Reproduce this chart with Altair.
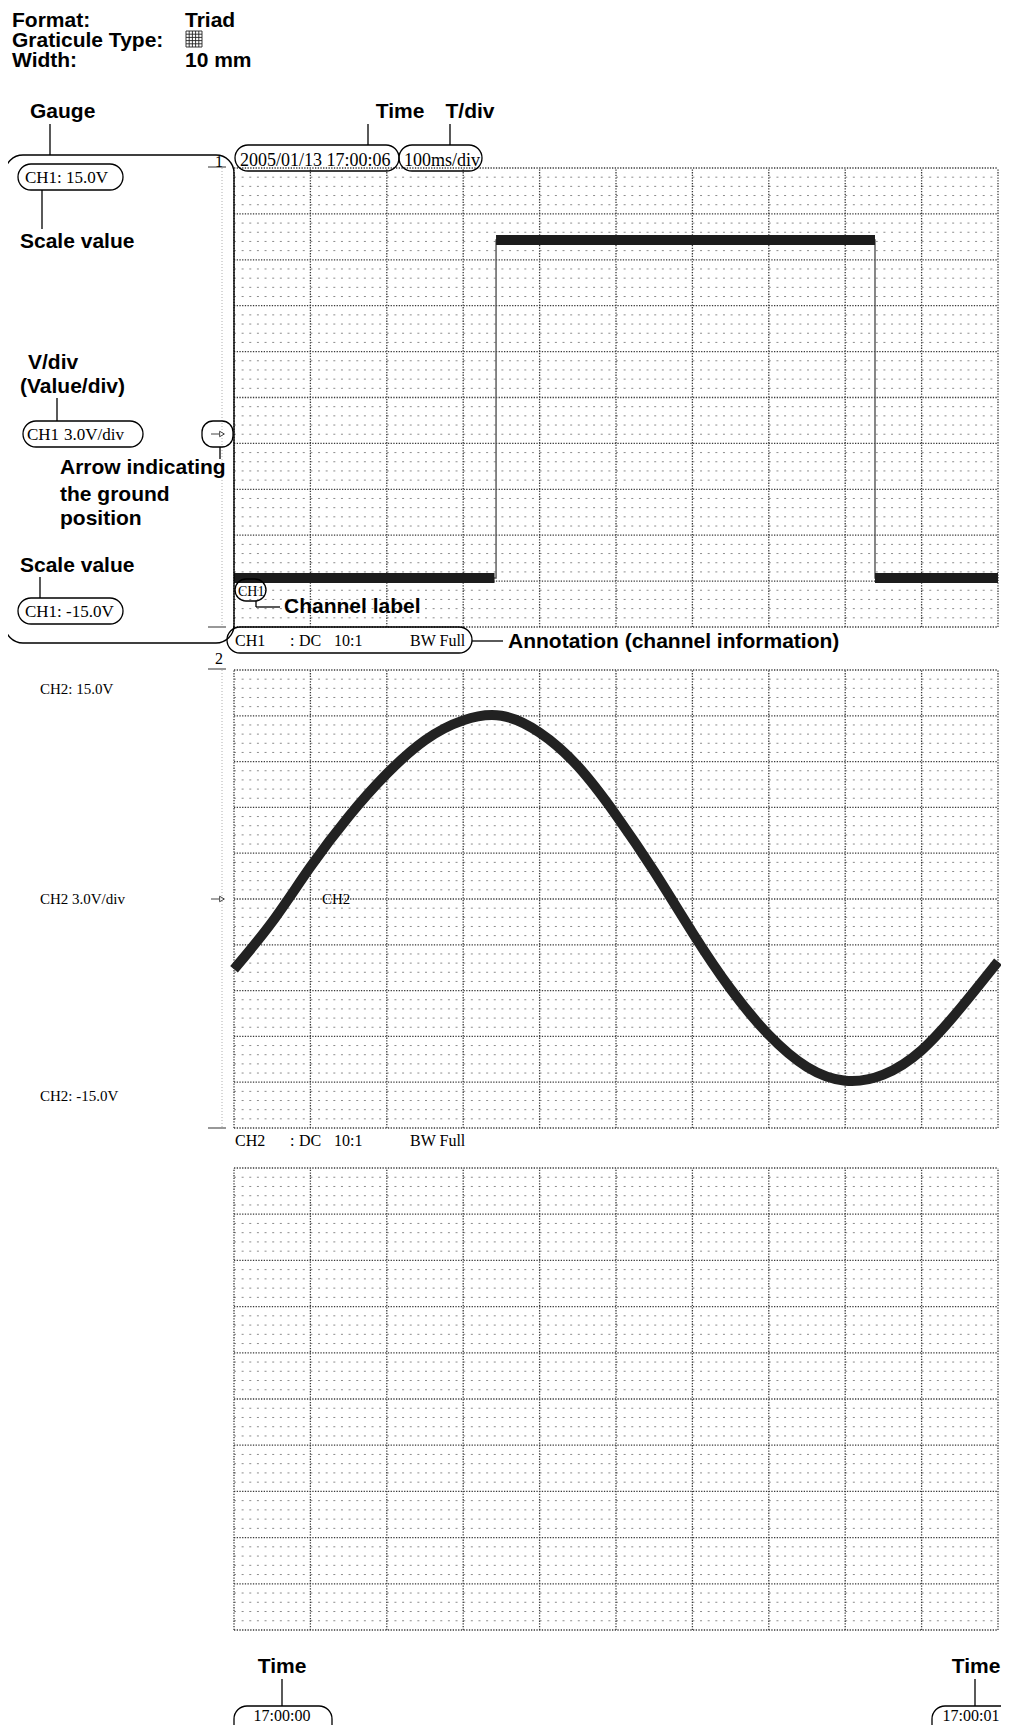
import altair as alt
import pandas as pd

# ---------------- data ----------------
TIME_TICKS = [0.0, 0.1, 0.2, 0.3, 0.4, 0.5, 0.6, 0.7, 0.8, 0.9, 1.0]      # s (100 ms/div)
VOLT_TICKS = [-15.0, -12.0, -9.0, -6.0, -3.0, 0.0, 3.0, 6.0, 9.0, 12.0, 15.0]  # V (3 V/div)
SUBDIVS = 5
V_MIN, V_MAX = -15.0, 15.0

# CH1 : square wave
CH1_T = [0.0, 0.343, 0.343, 0.839, 0.839, 1.0]
CH1_V = [-11.8, -11.8, 10.3, 10.3, -11.8, -11.8]
CH1_SEG_START = [0.0, 0.343, 0.839]
CH1_SEG_END = [0.341, 0.839, 1.0]
CH1_SEG_LEVEL = [-11.8, 10.3, -11.8]

# CH2 : sine wave (every 50 ms)
CH2_T = [0.00, 0.05, 0.10, 0.15, 0.20, 0.25, 0.30, 0.35, 0.40, 0.45, 0.50,
         0.55, 0.60, 0.65, 0.70, 0.75, 0.80, 0.85, 0.90, 0.95, 1.00]
CH2_V = [-4.6, -1.5, 2.1, 5.4, 8.2, 10.4, 11.7, 12.0, 10.9, 8.7, 5.5,
         1.8, -2.2, -5.9, -8.9, -11.0, -11.9, -11.5, -9.9, -7.2, -4.1]

# ---------------- layout (page pixels) ----------------
OFF = 8
W, H = 993, 1717
X_LEFT, X_RIGHT = 234, 998
PANELS = [(168, 627), (670, 1128), (1168, 1630)]
GROUND_Y = [434, 899]


def P(v):
    return v - OFF


layers = []


def xscale():
    return alt.Scale(domain=[0, 1], range=[P(X_LEFT), P(X_RIGHT)], nice=False, zero=False)


def yscale(top, bot):
    return alt.Scale(domain=[V_MIN, V_MAX], range=[P(bot), P(top)], nice=False, zero=False)


# ---------------- graticule ----------------
minor_volts = []
for i in range(len(VOLT_TICKS) - 1):
    step = (VOLT_TICKS[i + 1] - VOLT_TICKS[i]) / SUBDIVS
    for k in range(1, SUBDIVS):
        minor_volts.append(VOLT_TICKS[i] + k * step)

for (top, bot) in PANELS:
    ys = yscale(top, bot)
    hmin = pd.DataFrame({"v": minor_volts, "t0": 0.0, "t1": 1.0})
    layers.append(
        alt.Chart(hmin).mark_rule(color="#8c8c8c", strokeWidth=1, strokeDash=[2, 5.64]).encode(
            x=alt.X("t0:Q", scale=xscale(), axis=None), x2="t1:Q",
            y=alt.Y("v:Q", scale=ys, axis=None))
    )
    hmaj = pd.DataFrame({"v": VOLT_TICKS, "t0": 0.0, "t1": 1.0})
    layers.append(
        alt.Chart(hmaj).mark_rule(color="#3a3a3a", strokeWidth=1.3, strokeDash=[1.3, 1.4]).encode(
            x=alt.X("t0:Q", scale=xscale(), axis=None), x2="t1:Q",
            y=alt.Y("v:Q", scale=ys, axis=None))
    )
    vmaj = pd.DataFrame({"t": TIME_TICKS, "lo": V_MIN, "hi": V_MAX})
    layers.append(
        alt.Chart(vmaj).mark_rule(color="#3a3a3a", strokeWidth=1.3, strokeDash=[1.3, 1.4]).encode(
            x=alt.X("t:Q", scale=xscale(), axis=None),
            y=alt.Y("lo:Q", scale=ys, axis=None), y2="hi:Q")
    )

# ---------------- waveforms ----------------
t1, b1 = PANELS[0]
ch1 = pd.DataFrame({"t": CH1_T, "v": CH1_V, "i": list(range(len(CH1_T)))})
layers.append(
    alt.Chart(ch1).mark_line(color="#555555", strokeWidth=1.4).encode(
        x=alt.X("t:Q", scale=xscale(), axis=None),
        y=alt.Y("v:Q", scale=yscale(t1, b1), axis=None),
        order="i:Q")
)
ch1seg = pd.DataFrame({"t0": CH1_SEG_START, "t1": CH1_SEG_END, "v": CH1_SEG_LEVEL})
layers.append(
    alt.Chart(ch1seg).mark_rule(color="#1c1c1c", strokeWidth=10, strokeCap="butt").encode(
        x=alt.X("t0:Q", scale=xscale(), axis=None), x2="t1:Q",
        y=alt.Y("v:Q", scale=yscale(t1, b1), axis=None))
)

t2, b2 = PANELS[1]
ch2 = pd.DataFrame({"t": CH2_T, "v": CH2_V})
layers.append(
    alt.Chart(ch2).mark_line(color="#222222", strokeWidth=10, interpolate="natural", strokeCap="butt").encode(
        x=alt.X("t:Q", scale=xscale(), axis=None),
        y=alt.Y("v:Q", scale=yscale(t2, b2), axis=None))
)


# ---------------- helpers for annotation ----------------
def rules(rows, color="black", width=1.3, dash=None):
    df = pd.DataFrame(rows, columns=["x", "y", "x2", "y2"])
    for c in df.columns:
        df[c] = df[c] - OFF
    kw = dict(color=color, strokeWidth=width)
    if dash:
        kw["strokeDash"] = dash
    return alt.Chart(df).mark_rule(**kw).encode(
        x=alt.X("x:Q", scale=None, axis=None), y=alt.Y("y:Q", scale=None, axis=None),
        x2="x2:Q", y2="y2:Q")


def boxes(rows, radius, width=1.3):
    df = pd.DataFrame(rows, columns=["x", "y", "x2", "y2"])
    for c in df.columns:
        df[c] = df[c] - OFF
    return alt.Chart(df).mark_rect(fill="white", fillOpacity=0, stroke="black", strokeWidth=width,
                                   cornerRadius=radius).encode(
        x=alt.X("x:Q", scale=None, axis=None), y=alt.Y("y:Q", scale=None, axis=None),
        x2="x2:Q", y2="y2:Q")


def texts(rows, font, weight="normal", align="left", color="black"):
    df = pd.DataFrame(rows, columns=["label", "x", "y", "fs"])
    df["x"] = df["x"] - OFF
    df["y"] = df["y"] - OFF
    return alt.Chart(df).mark_text(font=font, fontWeight=weight, align=align, baseline="alphabetic",
                                   color=color).encode(
        x=alt.X("x:Q", scale=None, axis=None), y=alt.Y("y:Q", scale=None, axis=None),
        text="label:N", size=alt.Size("fs:Q", scale=None, legend=None))


# gauge scales (faint dotted line with ticks) for CH1, CH2
gauge_rules = []
for (top, bot) in PANELS[:2]:
    gauge_rules.append((208, top - 1, 226, top - 1))
    gauge_rules.append((208, bot, 226, bot))
layers.append(rules(gauge_rules, color="#444444", width=1.1))
layers.append(rules([(222, top, 222, bot) for (top, bot) in PANELS[:2]], color="#b0b0b0", width=1, dash=[1, 2]))

# ground arrows
arrow_rows = []
pts = []
for gy in GROUND_Y:
    arrow_rows.append((211, gy, 219, gy))
    pts.append((222 - OFF, gy - OFF))
layers.append(rules(arrow_rows, color="#444444", width=1))
layers.append(
    alt.Chart(pd.DataFrame(pts, columns=["x", "y"])).mark_point(
        shape="triangle-right", filled=False, size=30, color="#444444", strokeWidth=1, opacity=1).encode(
        x=alt.X("x:Q", scale=None, axis=None), y=alt.Y("y:Q", scale=None, axis=None))
)

# graticule-type icon
icon = [(186, 31, 202, 31), (186, 47, 202, 47), (186, 31, 186, 47), (202, 31, 202, 47),
        (189.2, 31, 189.2, 47), (192.4, 31, 192.4, 47), (195.6, 31, 195.6, 47), (198.8, 31, 198.8, 47),
        (186, 34.2, 202, 34.2), (186, 37.4, 202, 37.4), (186, 40.6, 202, 40.6), (186, 43.8, 202, 43.8)]
layers.append(rules(icon, color="#222222", width=0.9))

# gauge box
layers.append(boxes([(5, 155, 234, 643)], 18, width=1.4))

# pills
layers.append(boxes([
    (18, 164, 123, 190),      # CH1: 15.0V
    (23, 421, 143, 447),      # CH1 3.0V/div
    (18, 598, 123, 624),      # CH1: -15.0V
    (235, 145, 399, 171),     # date/time
    (399, 145, 482, 171),     # T/div
    (227, 627, 472, 653),     # annotation row
    (234, 1706, 332, 1750),   # 17:00:00
    (932, 1706, 1025, 1750),  # 17:00:01
], 13))
layers.append(boxes([(202, 421, 233, 447), (235, 579, 266, 601)], 11))

# leader lines
layers.append(rules([
    (50, 124, 50, 155),
    (368, 124, 368, 145),
    (450, 124, 450, 145),
    (42, 190, 42, 229),
    (57, 398, 57, 421),
    (220, 447, 220, 459),
    (40, 577, 40, 598),
    (256, 601, 256, 607), (256, 607, 280, 607),
    (472, 641, 503, 641),
    (282, 1679, 282, 1706),
    (975, 1679, 975, 1706),
], color="black", width=1.3))

# bold explanatory labels
SANS = "Liberation Sans"
layers.append(texts([
    ("Format:", 12, 27, 21),
    ("Graticule Type:", 12, 47, 21),
    ("Width:", 12, 67, 21),
    ("Triad", 185, 27, 21),
    ("10 mm", 185, 67, 21),
    ("Gauge", 30, 118, 21),
    ("Scale value", 20, 248, 21),
    ("V/div", 28, 369, 21),
    ("(Value/div)", 20, 393, 21),
    ("Arrow indicating", 60, 474, 21),
    ("the ground", 60, 501, 21),
    ("position", 60, 525, 21),
    ("Scale value", 20, 572, 21),
    ("Channel label", 284, 613, 21),
    ("Annotation (channel information)", 508, 648, 21),
], SANS, weight="bold"))
layers.append(texts([
    ("Time", 400, 118, 21),
    ("T/div", 470, 118, 21),
    ("Time", 282, 1673, 21),
    ("Time", 976, 1673, 21),
], SANS, weight="bold", align="center"))

# instrument (printer) text
SERIF = "Liberation Serif"
layers.append(texts([
    ("2005/01/13 17:00:06", 240, 166, 18),
    ("100ms/div", 404, 166, 18),
    ("CH1: 15.0V", 25, 183, 17),
    ("CH1", 27, 440, 17), ("3.0V/div", 64, 440, 17),
    ("CH1: -15.0V", 25, 617, 17),
    ("CH2: 15.0V", 40, 694, 15),
    ("CH2", 40, 904, 15), ("3.0V/div", 72, 904, 15),
    ("CH2: -15.0V", 40, 1101, 15),
    ("CH1", 238, 596, 14),
    ("CH2", 322, 904, 15),
    ("CH1", 235, 646, 16), (":", 290, 646, 16), ("DC", 299, 646, 16), ("10:1", 334, 646, 16),
    ("BW Full", 410, 646, 16),
    ("CH2", 235, 1146, 16), (":", 290, 1146, 16), ("DC", 299, 1146, 16), ("10:1", 334, 1146, 16),
    ("BW Full", 410, 1146, 16),
], SERIF))
layers.append(texts([
    ("1", 219, 167, 16),
    ("2", 219, 664, 16),
    ("17:00:00", 282, 1721, 16),
    ("17:00:01", 971, 1721, 16),
], SERIF, align="center"))

chart = alt.layer(*layers).resolve_scale(x="independent", y="independent").properties(
    width=W, height=H, autosize=alt.AutoSizeParams(type="none"), padding=0,
    background="white").configure_view(stroke=None)

chart.save("out.html", embed_options={"renderer": "svg", "actions": False})
